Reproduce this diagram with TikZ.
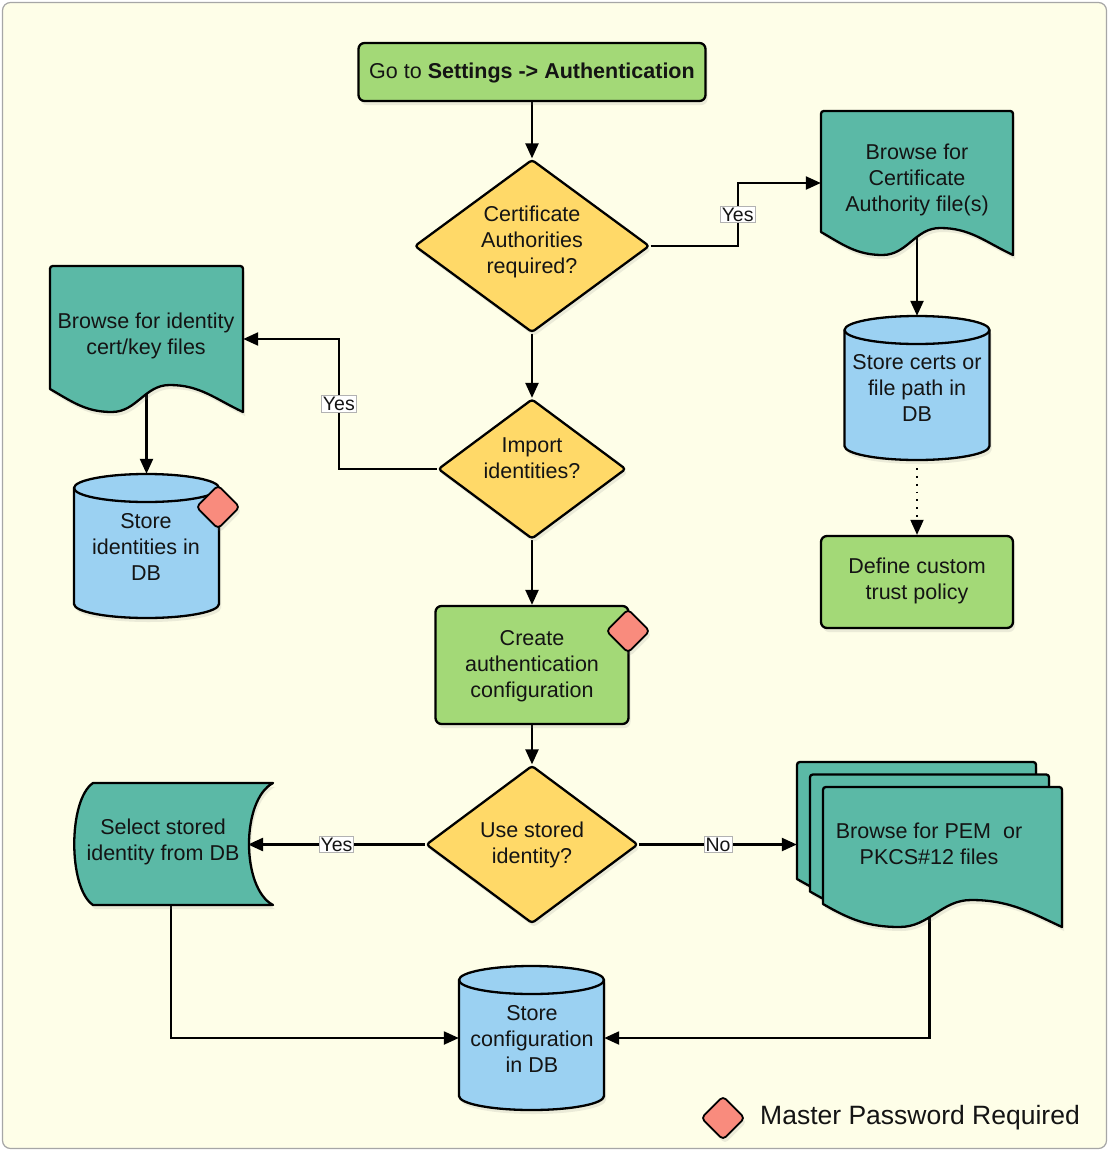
\documentclass[tikz,border=0pt]{standalone}
\usepackage{fontspec}
\setmainfont{Liberation Sans}
\usetikzlibrary{shapes.geometric,arrows.meta,shadows,calc}
\definecolor{bgc}{HTML}{FEFEE8}
\definecolor{grn}{HTML}{A3D977}
\definecolor{teal2}{HTML}{5BB9A6}
\definecolor{yel}{HTML}{FFD968}
\definecolor{blu}{HTML}{9BD1F2}
\definecolor{redd}{HTML}{F98B7D}
\definecolor{txtc}{HTML}{141414}
\pgfdeclarelayer{bg}\pgfdeclarelayer{edges}\pgfsetlayers{bg,edges,main}
\tikzset{
 shd/.style={drop shadow={opacity=0.15,shadow xshift=2pt,shadow yshift=-4pt}},
 outl/.style={draw=black,line width=2.3pt,line join=round},
 box/.style={rectangle,rounded corners=6pt,outl,shd,fill=grn,inner sep=0pt},
 dec/.style={diamond,rounded corners=3pt,outl,shd,fill=yel,inner sep=0pt},
 hold/.style={rectangle,inner sep=0pt,draw=none},
 tx/.style={font=\fontsize{21.5}{26}\selectfont,text=txtc,align=center,inner sep=0pt,yshift=-2pt},
 conn/.style={line width=2.3pt,-{Triangle[length=15pt,width=13pt]}},
 lbl/.style={fill=white,draw=black!30,line width=0.8pt,inner sep=1.5pt,font=\fontsize{19.5}{22}\selectfont,text=txtc},
 mp/.style={diamond,minimum width=44pt,minimum height=44pt,inner sep=0pt,fill=redd,outl,line width=1.8pt,rounded corners=4pt,shd},
}
% #1 L, #2 T, #3 W, #4 H, #5 fill
\newcommand\docshape[5]{%
\path[outl,shd,fill=#5] (#1,{-(#2+#4-23)}) -- (#1,{-(#2+6)}) .. controls (#1,-#2) .. ({#1+6},-#2) -- ({#1+#3-6},-#2) .. controls ({#1+#3},-#2) .. ({#1+#3},{-(#2+6)}) -- ({#1+#3},{-(#2+#4)}) to[out=155,in=0] ({#1+0.62*#3},{-(#2+#4-27)}) to[out=180,in=0] ({#1+0.32*#3},{-(#2+#4)}) to[out=180,in=-30] (#1,{-(#2+#4-23)}) -- cycle;}
% #1 cx, #2 top, #3 bottom, #4 rx
\newcommand\cylshape[4]{%
\path[outl,shd,fill=blu] ({#1-#4},{-#2-14}) -- ({#1-#4},{-#3+14}) arc[start angle=180,end angle=360,x radius=#4pt,y radius=14pt] -- ({#1+#4},{-#2-14}) arc[start angle=0,end angle=180,x radius=#4pt,y radius=14pt] -- cycle;
\draw[outl] ({#1-#4},{-#2-14}) arc[start angle=180,end angle=360,x radius=#4pt,y radius=14pt];}
\begin{document}
\begin{tikzpicture}[x=1pt,y=1pt]
\useasboundingbox (0,0) rectangle (1109,-1151);
\begin{pgfonlayer}{bg}
\draw[fill=bgc,draw=black!35,line width=1.2pt,rounded corners=8pt] (2.5,-2.5) rectangle (1106.5,-1148.5);
\end{pgfonlayer}

% start
\node[box,minimum width=347pt,minimum height=58pt] (start) at (532,-72) {};
\node[tx] (startt) at (532,-71) {Go to \textbf{Settings -> Authentication}};

% decision 1
\node[dec,minimum width=235pt,minimum height=173pt] (dec1) at (532,-246) {};
\node[tx] (dec1t) at (532,-240) {Certificate\\Authorities\\required?};

% doc 1
\docshape{821}{111}{192}{144}{teal2}
\node[hold,minimum width=192pt,minimum height=144pt] (doc1) at (917,-183) {};
\node[tx] (doc1t) at (917,-178) {Browse for\\Certificate\\Authority file(s)};

% cylinder 1
\cylshape{917}{316}{460}{72.5}
\node[hold,minimum width=145pt,minimum height=144pt] (cyl1) at (917,-388) {};
\node[tx] (cyl1t) at (917,-386) {Store certs or\\file path in\\DB};

% define
\node[box,minimum width=192pt,minimum height=92pt] (def) at (917,-582) {};
\node[tx] (deft) at (917,-579) {Define custom\\trust policy};

% decision 2
\node[dec,minimum width=188pt,minimum height=140pt] (dec2) at (532,-469) {};
\node[tx] (dec2t) at (532,-456) {Import\\identities?};

% doc 2
\docshape{50}{266}{193}{146}{teal2}
\node[hold,minimum width=193pt,minimum height=146pt] (doc2) at (146.5,-339) {};
\node[tx] (doc2t) at (146,-334) {Browse for identity\\cert/key files};

% cylinder 2
\cylshape{146.5}{474}{618}{72.5}
\node[hold,minimum width=145pt,minimum height=144pt] (cyl2) at (146.5,-546) {};
\node[tx] (cyl2t) at (146,-545) {Store\\identities in\\DB};
\node[mp] (mp1) at (218,-507) {};

% create
\node[box,minimum width=193pt,minimum height=118pt] (create) at (532,-665) {};
\node[tx] (createt) at (532,-664) {Create\\authentication\\configuration};
\node[mp] (mp2) at (628,-631) {};

% decision 3
\node[dec,minimum width=212pt,minimum height=158pt] (dec3) at (532,-844.5) {};
\node[tx] (dec3t) at (532,-843) {Use stored\\identity?};

% stored data
\path[outl,shd,fill=teal2] (93,-783) -- (273,-783) .. controls (241,-800) and (241,-888) .. (273,-905) -- (93,-905) .. controls (68,-888) and (68,-800) .. (93,-783) -- cycle;
\node[hold,minimum width=199pt,minimum height=122pt] (sel) at (171,-844) {};
\coordinate (selin) at (248,-844.5);
\node[tx] (selt) at (163,-840) {Select stored\\identity from DB};

% multi document
\docshape{797}{762}{239}{140}{teal2}
\docshape{810}{774.5}{239}{140}{teal2}
\docshape{823}{787}{239}{140}{teal2}
\node[hold,minimum width=265pt,minimum height=165pt] (docs3) at (929.5,-844.5) {};
\node[tx] (docs3t) at (929,-842) {Browse for PEM\ \ or\\PKCS\#12 files};

% cylinder 3
\cylshape{531.5}{966}{1110}{72.5}
\node[hold,minimum width=145pt,minimum height=144pt] (cyl3) at (531.5,-1038) {};
\node[tx] (cyl3t) at (532,-1037) {Store\\configuration\\in DB};

% legend
\node[mp] (leg) at (723,-1118) {};
\node[font=\fontsize{26.5}{30}\selectfont,text=txtc,anchor=west,inner sep=0pt] (legt) at (760,-1118) {Master Password Required};

% connectors
\begin{pgfonlayer}{edges}
\draw[conn] (start.south) -- (dec1.north);
\draw[conn] (dec1.east) -- ++(87,0) |- node[lbl,pos=0.25]{Yes} (doc1.west);
\draw[conn] (doc1.center) -- (cyl1.north);
\draw[line width=1.8pt,dash pattern=on 1.8pt off 6pt,-{Triangle[length=15pt,width=13pt]}] ([yshift=-8pt]cyl1.south) -- (def.north);
\draw[conn] (dec1.south) -- (dec2.north);
\draw[conn] (dec2.west) -- ++(-98,0) |- node[lbl,pos=0.25]{Yes} (doc2.east);
\draw[conn] (doc2.center) -- (cyl2.north);
\draw[conn] (dec2.south) -- (create.north);
\draw[conn] (create.south) -- (dec3.north);
\draw[conn] (dec3.west) -- node[lbl]{Yes} (selin);
\draw[conn] (dec3.east) -- node[lbl]{No} (docs3.west);
\draw[conn] (sel.center) |- (cyl3.west);
\draw[conn] (docs3.center) |- (cyl3.east);
\end{pgfonlayer}
\end{tikzpicture}
\end{document}
